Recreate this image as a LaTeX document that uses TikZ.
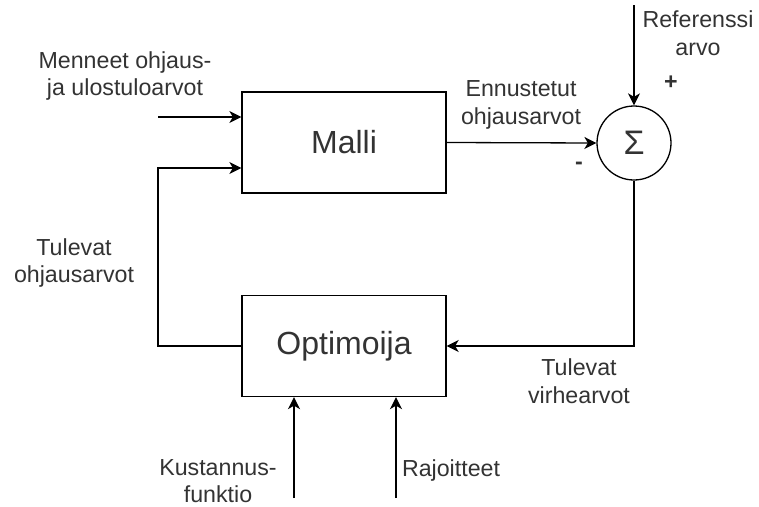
\documentclass[tikz,border=0pt]{standalone}
\usepackage{fontspec}
\setmainfont{Liberation Sans}
\usetikzlibrary{arrows.meta,calc}
\definecolor{txt}{HTML}{333333}
\tikzset{
  lbl/.style={text=txt, font=\fontsize{23.2}{27.5}\selectfont, align=center, inner sep=0pt},
  blk/.style={draw, line width=1.3pt, minimum width=204pt, minimum height=101pt, text=txt, font=\fontsize{32}{38}\selectfont, inner sep=0pt},
  sumc/.style={draw, circle, line width=1.3pt, minimum size=74pt, inner sep=0pt, text=txt, font=\fontsize{34}{40}\selectfont},
  conn/.style={line width=1.3pt},
  arr/.style={conn, -{Stealth[length=12pt,width=12pt,inset=3.5pt]}}
}
\begin{document}
\begin{tikzpicture}[x=1pt,y=-1pt]
\useasboundingbox (0,0) rectangle (759,506);
\node[blk] (malli) at (344,142.5) {Malli};
\node[blk] (opt) at (344,346) {Optimoija};
\node[sumc] (sum) at (634,143) {Σ};
\coordinate (menin) at (158,117);
\coordinate (refin) at (634,5);
\coordinate (kin) at (294,498);
\coordinate (rin) at (396,498);
\coordinate (lcorner) at (158,346);
\draw[arr] (menin) -- (menin -| malli.west);
\draw[arr] (opt.west) -- (lcorner) |- ($(malli.west)+(0,25.5)$);
\draw[arr] (malli.east) -- (sum.west);
\draw[arr] (refin) -- (sum.north);
\draw[arr] (sum.south) |- (opt.east);
\draw[arr] (kin) -- (kin |- opt.south);
\draw[arr] (rin) -- (rin |- opt.south);
\node[lbl] (lmen) at (125,76) {Menneet ohjaus-\\ja ulostuloarvot};
\node[lbl] (lenn) at (521,105) {Ennustetut\\ohjausarvot};
\node[lbl] (lref) at (698,33) {Referenssi\\arvo};
\node[lbl, font=\bfseries\fontsize{23.2}{27.5}\selectfont] (lplus) at (671,83) {+};
\node[lbl, font=\bfseries\fontsize{23.2}{27.5}\selectfont] (lminus) at (579,166) {-};
\node[lbl] (ltulo) at (74,263) {Tulevat\\ohjausarvot};
\node[lbl] (ltulv) at (579,381) {Tulevat\\virhearvot};
\node[lbl] (lkust) at (218,481) {Kustannus-\\funktio};
\node[lbl, anchor=base] (lraj) at (451,476) {Rajoitteet};
\end{tikzpicture}
\end{document}
